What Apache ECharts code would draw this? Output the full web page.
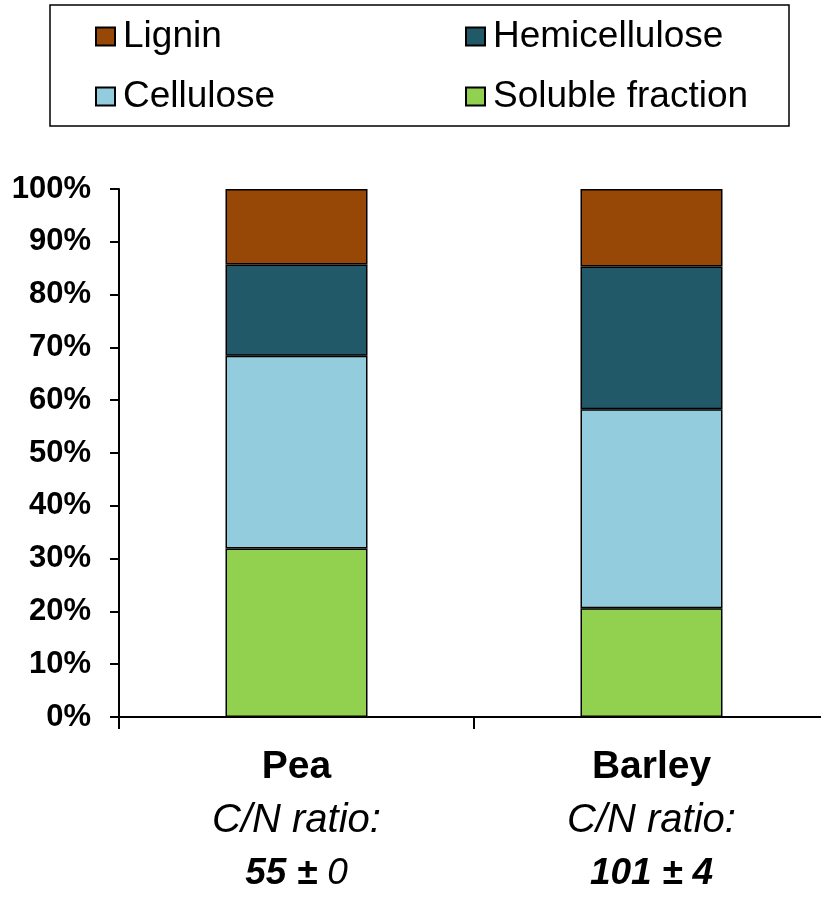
<!DOCTYPE html>
<html>
<head>
<meta charset="utf-8">
<script src="https://cdn.jsdelivr.net/npm/echarts@6/dist/echarts.min.js"></script>
<style>
html,body{margin:0;padding:0;background:#fff;overflow:hidden;width:821px;height:898px;}
#chart{width:829px;height:898px;}
</style>
</head>
<body>
<div id="chart"></div>
<script>
const categories = ['Pea', 'Barley'];
const cnMean = ['55', '101'];
const cnSd = ['0', '4'];
const soluble = [31.9, 20.6];
const cellulose = [36.5, 37.7];
const hemicellulose = [17.3, 27.0];
const lignin = [14.3, 14.7];
const yTicks = [0, 10, 20, 30, 40, 50, 60, 70, 80, 90, 100];

const FONT = '"Liberation Sans", Arial, sans-serif';
const colors = {
  'Soluble fraction': '#92D050',
  'Cellulose': '#93CDDD',
  'Hemicellulose': '#215968',
  'Lignin': '#974706'
};

const chart = echarts.init(document.getElementById('chart'), null, {renderer: 'canvas'});

function mkSeries(name, data) {
  return {
    name: name,
    type: 'bar',
    stack: 'total',
    barWidth: '40%',
    data: data,
    itemStyle: {color: colors[name], borderColor: '#000', borderWidth: 1.5},
    emphasis: {disabled: true}
  };
}

function mkLegend(name, left, top) {
  return {
    data: [name],
    left: left,
    top: top,
    padding: 0,
    itemWidth: 19,
    itemHeight: 18,
    icon: 'rect',
    selectedMode: false,
    textStyle: {fontFamily: FONT, fontSize: 37, color: '#000', padding: [0, 0, 0, 3]}
  };
}

chart.setOption({
  animation: false,
  backgroundColor: '#fff',
  graphic: [{
    type: 'rect',
    shape: {x: 50, y: 5, width: 739, height: 121},
    style: {fill: 'none', stroke: '#000', lineWidth: 1.5},
    silent: true
  }],
  legend: [
    mkLegend('Lignin', 95, 18),
    mkLegend('Hemicellulose', 465, 18),
    mkLegend('Cellulose', 95, 78),
    mkLegend('Soluble fraction', 465, 78)
  ],
  grid: {left: 119, right: 0, top: 189, bottom: 181, containLabel: false},
  xAxis: {
    type: 'category',
    data: categories,
    axisLine: {lineStyle: {color: '#000', width: 2}},
    axisTick: {show: true, length: 12, lineStyle: {color: '#000', width: 2}},
    axisLabel: {
      margin: 24,
      interval: 0,
      formatter: function (v, i) {
        const sdStyle = i === 0 ? 'sdn' : 'sdb';
        return '{a|' + v + '}\n{b|C/N ratio:}\n{c|' + cnMean[i] + ' ± }{' + sdStyle + '|' + cnSd[i] + '}';
      },
      rich: {
        a: {fontFamily: FONT, fontSize: 39, fontWeight: 'bold', color: '#000', lineHeight: 53},
        b: {fontFamily: FONT, fontSize: 40, fontStyle: 'italic', color: '#000', lineHeight: 53},
        c: {fontFamily: FONT, fontSize: 37, fontStyle: 'italic', fontWeight: 'bold', color: '#000', lineHeight: 53},
        sdn: {fontFamily: FONT, fontSize: 37, fontStyle: 'italic', color: '#000', lineHeight: 53},
        sdb: {fontFamily: FONT, fontSize: 37, fontStyle: 'italic', fontWeight: 'bold', color: '#000', lineHeight: 53}
      }
    },
    splitLine: {show: false}
  },
  yAxis: {
    type: 'value',
    min: yTicks[0],
    max: yTicks[yTicks.length - 1],
    interval: 10,
    axisLine: {show: true, lineStyle: {color: '#000', width: 2}},
    axisTick: {show: true, length: 9, lineStyle: {color: '#000', width: 2}},
    axisLabel: {
      margin: 28,
      formatter: '{value}%',
      fontFamily: FONT,
      fontSize: 31,
      fontWeight: 'bold',
      color: '#000'
    },
    splitLine: {show: false}
  },
  series: [
    mkSeries('Soluble fraction', soluble),
    mkSeries('Cellulose', cellulose),
    mkSeries('Hemicellulose', hemicellulose),
    mkSeries('Lignin', lignin)
  ]
});
</script>
</body>
</html>
